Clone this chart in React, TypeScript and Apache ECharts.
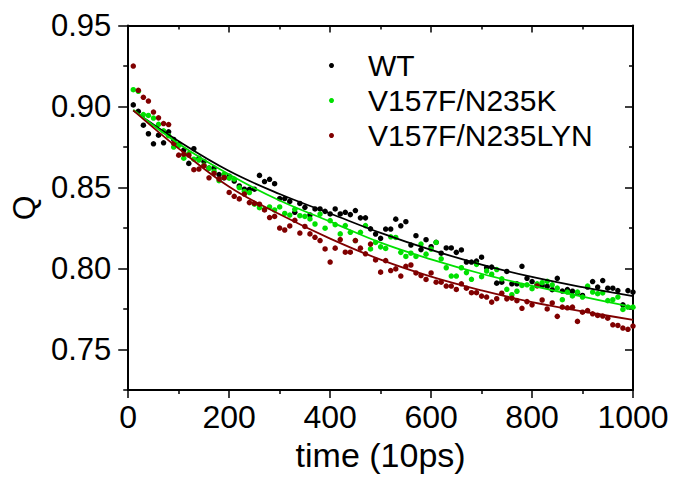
import React, { useEffect, useRef } from "react";
import * as echarts from "echarts";

const times: number[] = [];
for (let t = 10; t <= 1000; t += 10) times.push(t);

const wtValues = [
  0.901, 0.897, 0.8885, 0.8832, 0.877, 0.8823, 0.8776, 0.8844, 0.8797, 0.8766,
  0.8731, 0.8649, 0.874, 0.868, 0.866, 0.862, 0.862, 0.858, 0.856, 0.857,
  0.854, 0.851, 0.849, 0.8489, 0.849, 0.8575, 0.8537, 0.8551, 0.8524, 0.8432,
  0.8432, 0.8414, 0.8347, 0.8402, 0.8378, 0.8331, 0.8368, 0.8368, 0.8353, 0.8337,
  0.8368, 0.8337, 0.8347, 0.8333, 0.8358, 0.8313, 0.8313, 0.8245, 0.8213, 0.8187,
  0.8244, 0.8244, 0.8305, 0.8264, 0.8289, 0.8145, 0.8203, 0.8117, 0.8178, 0.8135,
  0.8162, 0.8095, 0.8127, 0.8127, 0.81, 0.8115, 0.804, 0.804, 0.8046, 0.807,
  0.8005, 0.8009, 0.791, 0.7916, 0.7982, 0.7906, 0.7906, 0.8014, 0.794, 0.792,
  0.79, 0.7896, 0.789, 0.787, 0.794, 0.7861, 0.787, 0.786, 0.785, 0.7834,
  0.7886, 0.792, 0.7886, 0.7926, 0.7879, 0.7879, 0.7864, 0.7776, 0.7864, 0.7855,
];

const kValues = [
  0.9104, 0.9094, 0.895, 0.8945, 0.8929, 0.889, 0.885, 0.882, 0.875, 0.876,
  0.8681, 0.871, 0.8675, 0.867, 0.8638, 0.862, 0.86, 0.8542, 0.8583, 0.8558,
  0.8552, 0.85, 0.8476, 0.8469, 0.8397, 0.8376, 0.8366, 0.838, 0.8362, 0.838,
  0.834, 0.833, 0.8366, 0.8326, 0.8322, 0.8306, 0.8275, 0.8336, 0.8249, 0.8296,
  0.8271, 0.8214, 0.8265, 0.8224, 0.8173, 0.8224, 0.8265, 0.8121, 0.8161, 0.8134,
  0.8124, 0.8196, 0.8192, 0.81, 0.8075, 0.8095, 0.8075, 0.8151, 0.8089, 0.812,
  0.8161, 0.806, 0.8005, 0.7954, 0.7954, 0.8005, 0.7975, 0.7934, 0.8026, 0.795,
  0.7985, 0.7965, 0.7994, 0.7937, 0.7872, 0.7839, 0.786, 0.7896, 0.79, 0.7876,
  0.7906, 0.7913, 0.7921, 0.79, 0.788, 0.7808, 0.7855, 0.7831, 0.7855, 0.7824,
  0.7892, 0.7855, 0.7845, 0.785, 0.7802, 0.7808, 0.7824, 0.7748, 0.7762, 0.7762,
];

const lynValues = [
  0.925, 0.91, 0.9057, 0.9034, 0.8966, 0.893, 0.8895, 0.8889, 0.8773, 0.87,
  0.8706, 0.87, 0.861, 0.8614, 0.8634, 0.856, 0.8587, 0.8552, 0.8562, 0.847,
  0.8446, 0.843, 0.846, 0.8407, 0.8403, 0.8397, 0.8362, 0.8315, 0.8322, 0.825,
  0.8238, 0.8263, 0.8298, 0.8219, 0.826, 0.8214, 0.8193, 0.8173, 0.8121, 0.804,
  0.8126, 0.8179, 0.8101, 0.8101, 0.8173, 0.8126, 0.8091, 0.8151, 0.8053, 0.7978,
  0.8049, 0.7988, 0.7998, 0.7954, 0.8014, 0.8022, 0.7973, 0.7957, 0.7933, 0.7973,
  0.7916, 0.7916, 0.7892, 0.7892, 0.7871, 0.7906, 0.7879, 0.7851, 0.7851, 0.783,
  0.7824, 0.7793, 0.7814, 0.7848, 0.7813, 0.7817, 0.7802, 0.7755, 0.7796, 0.7776,
  0.7893, 0.7806, 0.7751, 0.7788, 0.7705, 0.7762, 0.7758, 0.7762, 0.7674, 0.7731,
  0.7741, 0.7721, 0.7711, 0.7707, 0.7694, 0.7653, 0.7649, 0.7633, 0.7625, 0.7645,
];

const fitTimes = [10, 100, 200, 300, 400, 500, 600, 700, 800, 900, 1000];
const wtFit = [0.8976, 0.8786, 0.8602, 0.846, 0.834, 0.822, 0.8115, 0.8025, 0.7948, 0.7885, 0.783];
const kFit = [0.898, 0.877, 0.858, 0.842, 0.829, 0.816, 0.8057, 0.7968, 0.7893, 0.7827, 0.7762];
const lynFit = [0.8976, 0.874, 0.8505, 0.8335, 0.8185, 0.8055, 0.795, 0.7865, 0.7793, 0.7735, 0.7684];

const seriesNames = ["WT", "V157F/N235K", "V157F/N235LYN"];
const colors = ["#000000", "#00e000", "#800000"];
const xTickLabels = ["0", "200", "400", "600", "800", "1000"];
const yMajorTicks = [0.75, 0.8, 0.85, 0.9, 0.95];
const yMinorTicks = [0.725, 0.775, 0.825, 0.875, 0.925];
const yTickLabels = ["0.75", "0.80", "0.85", "0.90", "0.95"];

const FONT = "Liberation Sans, Arial, sans-serif";

export default function App() {
  const ref = useRef<HTMLDivElement>(null);
  useEffect(() => {
    if (!ref.current) return;
    const chart = echarts.init(ref.current, undefined, { renderer: "svg" });
    const pairs = (xs: number[], ys: number[]) => xs.map((x, i) => [x, ys[i]]);
    const scatterData = [wtValues, kValues, lynValues];
    const fitData = [wtFit, kFit, lynFit];
    const axisLine = { show: true, lineStyle: { color: "#000", width: 2 } };
    const tickStyle = { color: "#000", width: 1.5 };
    const series: any[] = [];
    seriesNames.forEach((name, i) => {
      series.push({
        name,
        type: "scatter",
        data: pairs(times, scatterData[i]),
        symbolSize: 5.5,
        itemStyle: { color: colors[i], opacity: 1 },
        z: 2,
      });
    });
    seriesNames.forEach((name, i) => {
      series.push({
        name: name + " fit",
        type: "line",
        data: pairs(fitTimes, fitData[i]),
        smooth: 0.4,
        showSymbol: false,
        symbol: "none",
        lineStyle: { color: colors[i], width: 1.8 },
        z: 3,
      });
    });
    const yBase = { type: "value", min: 0.725, max: 0.95, splitLine: { show: false } };
    chart.setOption({
      animation: false,
      backgroundColor: "#ffffff",
      textStyle: { fontFamily: FONT },
      grid: { left: 127, right: 45, top: 25.5, bottom: 84.5, containLabel: false },
      legend: {
        data: seriesNames.map((n) => ({ name: n, icon: "circle" })),
        orient: "vertical",
        left: 324,
        top: 43,
        itemWidth: 5,
        itemHeight: 5,
        itemGap: 0,
        textStyle: { fontSize: 30, fontFamily: FONT, color: "#000", padding: [0, 0, 0, 29], lineHeight: 35 },
      },
      xAxis: [
        {
          type: "value",
          min: 0,
          max: 1000,
          interval: 200,
          position: "bottom",
          name: "time (10ps)",
          nameLocation: "middle",
          nameGap: 44,
          nameTextStyle: { fontSize: 34, fontFamily: FONT, color: "#000" },
          axisLine,
          axisTick: { show: true, inside: false, length: 8, lineStyle: tickStyle },
          minorTick: { show: true, splitNumber: 2, length: 4, lineStyle: tickStyle },
          splitLine: { show: false },
          axisLabel: {
            fontSize: 32,
            fontFamily: FONT,
            color: "#000",
            margin: 11,
            formatter: (v: number) => xTickLabels[Math.round(v / 200)] ?? "",
          },
        },
        {
          type: "value",
          min: 0,
          max: 1000,
          interval: 200,
          position: "top",
          axisLine,
          axisTick: { show: true, inside: true, length: 7, lineStyle: tickStyle },
          minorTick: { show: true, splitNumber: 2, length: 4, lineStyle: tickStyle },
          splitLine: { show: false },
          axisLabel: { show: false },
        },
      ],
      yAxis: [
        {
          ...yBase,
          position: "left",
          name: "Q",
          nameLocation: "middle",
          nameGap: 86,
          nameRotate: 90,
          nameTextStyle: { fontSize: 32, fontFamily: FONT, color: "#000" },
          axisLine,
          axisTick: { show: true, inside: false, length: 10, lineStyle: tickStyle, customValues: yMajorTicks },
          axisLabel: {
            fontSize: 31,
            fontFamily: FONT,
            color: "#000",
            margin: 17,
            customValues: yMajorTicks,
            formatter: (v: number) => yTickLabels[Math.round((v - 0.75) / 0.05)] ?? "",
          },
        },
        {
          ...yBase,
          position: "left",
          axisLine: { show: false },
          axisTick: { show: true, inside: false, length: 5, lineStyle: tickStyle, customValues: yMinorTicks },
          axisLabel: { show: false },
        },
        {
          ...yBase,
          position: "right",
          axisLine,
          axisTick: { show: true, inside: true, length: 8, lineStyle: tickStyle, customValues: yMajorTicks },
          axisLabel: { show: false },
        },
        {
          ...yBase,
          position: "right",
          axisLine: { show: false },
          axisTick: { show: true, inside: true, length: 4, lineStyle: tickStyle, customValues: yMinorTicks },
          axisLabel: { show: false },
        },
      ],
      series,
    });
    return () => chart.dispose();
  }, []);
  return (
    <div
      ref={ref}
      style={{ position: "fixed", left: 0, top: 0, width: 678, height: 477, background: "#fff" }}
    />
  );
}
